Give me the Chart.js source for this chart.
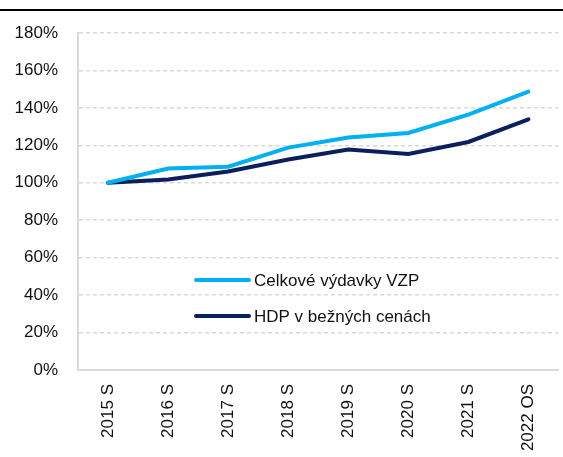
<!DOCTYPE html>
<html>
<head>
<meta charset="utf-8">
<script src="https://cdn.jsdelivr.net/npm/chart.js@4/dist/chart.umd.min.js"></script>
<style>
  html, body { margin: 0; padding: 0; background: #fff; }
  #wrap { position: relative; width: 563px; height: 457px; }
  #topline { position: absolute; left: 0; top: 9px; width: 563px; height: 2px; background: #000; }
</style>
</head>
<body>
<div id="wrap">
  <div id="topline"></div>
  <canvas id="chart" width="563" height="457"></canvas>
</div>
<script>
const years = ['2015 S', '2016 S', '2017 S', '2018 S', '2019 S', '2020 S', '2021 S', '2022 OS'];
const vydavkyVzp = [100, 107.6, 108.6, 118.8, 124.2, 126.6, 136.4, 148.7];
const hdpBezne = [100, 101.7, 106.0, 112.4, 117.8, 115.4, 121.8, 133.9];
const seriesNames = ['Celkové výdavky VZP', 'HDP v bežných cenách'];
const seriesColors = ['#00b0f0', '#0b1f5c'];

const font = { family: 'Arial, "Liberation Sans", sans-serif', size: 17 };

// legend drawn inside the plot area, like in the source
const innerLegend = {
  id: 'innerLegend',
  afterDatasetsDraw(chart) {
    const ctx = chart.ctx;
    const rows = [280, 316];
    ctx.save();
    ctx.font = `${font.size}px ${font.family}`;
    ctx.textBaseline = 'middle';
    chart.data.datasets.forEach((ds, i) => {
      ctx.strokeStyle = ds.borderColor;
      ctx.lineWidth = 4;
      ctx.lineCap = 'round';
      ctx.beginPath();
      ctx.moveTo(196, rows[i]);
      ctx.lineTo(249, rows[i]);
      ctx.stroke();
      ctx.fillStyle = '#111';
      ctx.fillText(ds.label, 254, rows[i] + 1);
    });
    ctx.restore();
  }
};

new Chart(document.getElementById('chart'), {
  type: 'line',
  data: {
    labels: years,
    datasets: [
      { label: seriesNames[0], data: vydavkyVzp, borderColor: seriesColors[0], borderWidth: 4, pointRadius: 0, tension: 0, borderCapStyle: 'round' },
      { label: seriesNames[1], data: hdpBezne, borderColor: seriesColors[1], borderWidth: 4, pointRadius: 0, tension: 0, borderCapStyle: 'round' }
    ]
  },
  options: {
    responsive: false,
    animation: false,
    layout: { padding: { top: 33, right: 3, left: 0, bottom: 0 } },
    plugins: { legend: { display: false }, tooltip: { enabled: false } },
    scales: {
      x: {
        offset: true,
        grid: { display: false, drawTicks: false },
        border: { color: '#d9d9d9', width: 2 },
        ticks: { color: '#111', font: font, minRotation: 90, maxRotation: 90, padding: 14 },
        afterFit(scale) { scale.height = 87; }
      },
      y: {
        min: 0,
        max: 180,
        grid: { color: '#d9d9d9', lineWidth: 1.5, drawTicks: false },
        border: { color: '#d9d9d9', width: 2, dash: [4, 3] },
        ticks: { stepSize: 20, color: '#111', font: font, padding: 20, callback: v => v + '%' },
        afterFit(scale) { scale.width = 78; }
      }
    }
  },
  plugins: [innerLegend]
});
</script>
</body>
</html>
